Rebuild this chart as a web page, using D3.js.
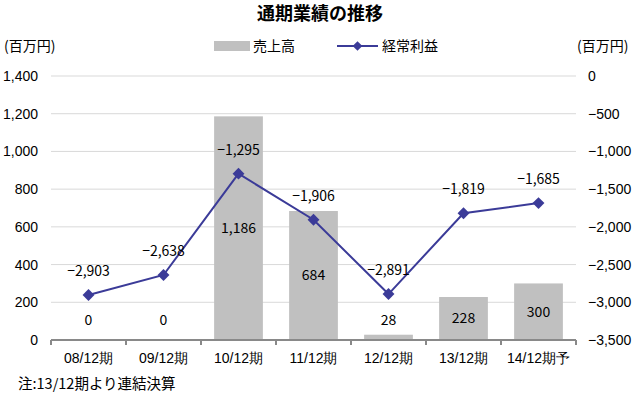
<!DOCTYPE html>
<html>
<head>
<meta charset="utf-8">
<script src="https://cdn.jsdelivr.net/npm/d3@7"></script>
<style>
  body { margin: 0; background: #fff; }
  svg { font-family: "Noto Sans CJK JP", "Noto Sans", sans-serif; }
</style>
</head>
<body>
<svg id="chart" width="641" height="398"></svg>
<script>
var periods = ['08/12期', '09/12期', '10/12期', '11/12期', '12/12期', '13/12期', '14/12期予'];
var sales = [0, 0, 1186, 684, 28, 228, 300];
var ordinary_profit = [-2903, -2638, -1295, -1906, -2891, -1819, -1685];
var left_ticks = [0, 200, 400, 600, 800, 1000, 1200, 1400];
var right_ticks = [0, -500, -1000, -1500, -2000, -2500, -3000, -3500];

var svg = d3.select('#chart');
var margin = { top: 76, bottom: 58, left: 51, right: 65 };
var inner_width = 641 - margin.left - margin.right;
var inner_height = 398 - margin.top - margin.bottom;
var fmt = d3.format(',');

var x_scale = d3.scaleBand()
     .domain(periods)
     .range([0, inner_width])
     .paddingInner(0.35)
     .paddingOuter(0.175);
var x_outer = d3.scaleBand().domain(periods).range([0, inner_width]);

var y_left = d3.scaleLinear().domain([0, 1400]).range([inner_height, 0]);
var y_right = d3.scaleLinear().domain([-3500, 0]).range([inner_height, 0]);

var g = svg.append('g')
     .attr('transform', 'translate(' + margin.left + ',' + margin.top + ')');

// grid lines
g.append('g').selectAll('line')
     .data(left_ticks.filter(d => d > 0))
     .enter()
     .append('line')
     .attr('x1', 0)
     .attr('x2', inner_width)
     .attr('y1', d => y_left(d))
     .attr('y2', d => y_left(d))
     .style('stroke', '#d9d9d9')
     .style('stroke-width', 1);

// bars
g.append('g').selectAll('rect')
     .data(sales)
     .enter()
     .append('rect')
     .attr('x', (d, i) => x_scale(periods[i]))
     .attr('y', d => y_left(d))
     .attr('width', x_scale.bandwidth())
     .attr('height', d => inner_height - y_left(d))
     .style('fill', '#c0c0c0');

// x axis
var x_axis = d3.axisBottom(x_outer).tickSize(0).tickPadding(13);
var xg = g.append('g')
     .attr('transform', 'translate(0,' + inner_height + ')')
     .call(x_axis);
xg.select('.domain').remove();
xg.selectAll('text').style('font-size', '14px').style('fill', '#000');
xg.append('line')
     .attr('x1', 0).attr('x2', inner_width)
     .style('stroke', '#898989').style('stroke-width', 2);
xg.selectAll('.cat-tick')
     .data(periods.concat(['end']))
     .enter()
     .append('line')
     .attr('class', 'cat-tick')
     .attr('x1', (d, i) => i * x_outer.step())
     .attr('x2', (d, i) => i * x_outer.step())
     .attr('y1', 0).attr('y2', 5)
     .style('stroke', '#898989').style('stroke-width', 2);

// left axis
var yl = g.append('g')
     .call(d3.axisLeft(y_left).tickValues(left_ticks).tickSize(0).tickPadding(13).tickFormat(fmt));
yl.select('.domain').remove();
yl.selectAll('text').style('font-size', '14px').style('fill', '#000');

// right axis
var yr = g.append('g')
     .attr('transform', 'translate(' + inner_width + ',0)')
     .call(d3.axisRight(y_right).tickValues(right_ticks).tickSize(0).tickPadding(12).tickFormat(fmt));
yr.select('.domain').remove();
yr.selectAll('text').style('font-size', '14px').style('fill', '#000');

// bar labels
g.append('g').selectAll('text')
     .data(sales)
     .enter()
     .append('text')
     .attr('x', (d, i) => x_outer(periods[i]) + x_outer.bandwidth() / 2)
     .attr('y', d => Math.min((y_left(d) + inner_height) / 2, inner_height - 20))
     .attr('dy', '0.35em')
     .style('text-anchor', 'middle')
     .style('font-size', '14px')
     .text(d => fmt(d));

// profit line
var cx = (d, i) => x_outer(periods[i]) + x_outer.bandwidth() / 2;
var line = d3.line()
     .x(cx)
     .y(d => y_right(d));
g.append('path')
     .datum(ordinary_profit)
     .attr('d', line)
     .style('fill', 'none')
     .style('stroke', '#3b3b98')
     .style('stroke-width', 2);

g.append('g').selectAll('path')
     .data(ordinary_profit)
     .enter()
     .append('path')
     .attr('d', d3.symbol().type(d3.symbolDiamond2).size(90))
     .attr('transform', (d, i) => 'translate(' + cx(d, i) + ',' + y_right(d) + ')')
     .style('fill', '#3b3b98');

g.append('g').selectAll('text')
     .data(ordinary_profit)
     .enter()
     .append('text')
     .attr('x', cx)
     .attr('y', d => y_right(d) - 24)
     .attr('dy', '0.35em')
     .style('text-anchor', 'middle')
     .style('font-size', '14px')
     .text(d => fmt(d));

// title
svg.append('text')
     .attr('x', 320)
     .attr('y', 14)
     .attr('dy', '0.35em')
     .style('text-anchor', 'middle')
     .style('font-size', '18px')
     .style('font-weight', 'bold')
     .text('通期業績の推移');

// unit labels
svg.append('text')
     .attr('x', 4).attr('y', 46).attr('dy', '0.35em')
     .style('font-size', '14px')
     .text('(百万円)');
svg.append('text')
     .attr('x', 577).attr('y', 46).attr('dy', '0.35em')
     .style('font-size', '14px')
     .text('(百万円)');

// legend
svg.append('rect')
     .attr('x', 214).attr('y', 41)
     .attr('width', 36).attr('height', 10)
     .style('fill', '#c0c0c0');
svg.append('text')
     .attr('x', 253).attr('y', 46).attr('dy', '0.35em')
     .style('font-size', '14px')
     .text('売上高');
svg.append('line')
     .attr('x1', 337).attr('x2', 378)
     .attr('y1', 46).attr('y2', 46)
     .style('stroke', '#3b3b98').style('stroke-width', 2);
svg.append('path')
     .attr('d', d3.symbol().type(d3.symbolDiamond2).size(60))
     .attr('transform', 'translate(357.5,46)')
     .style('fill', '#3b3b98');
svg.append('text')
     .attr('x', 382).attr('y', 46).attr('dy', '0.35em')
     .style('font-size', '14px')
     .text('経常利益');

// note
svg.append('text')
     .attr('x', 18).attr('y', 384).attr('dy', '0.35em')
     .style('font-size', '14.5px')
     .text('注:13/12期より連結決算');
</script>
</body>
</html>
